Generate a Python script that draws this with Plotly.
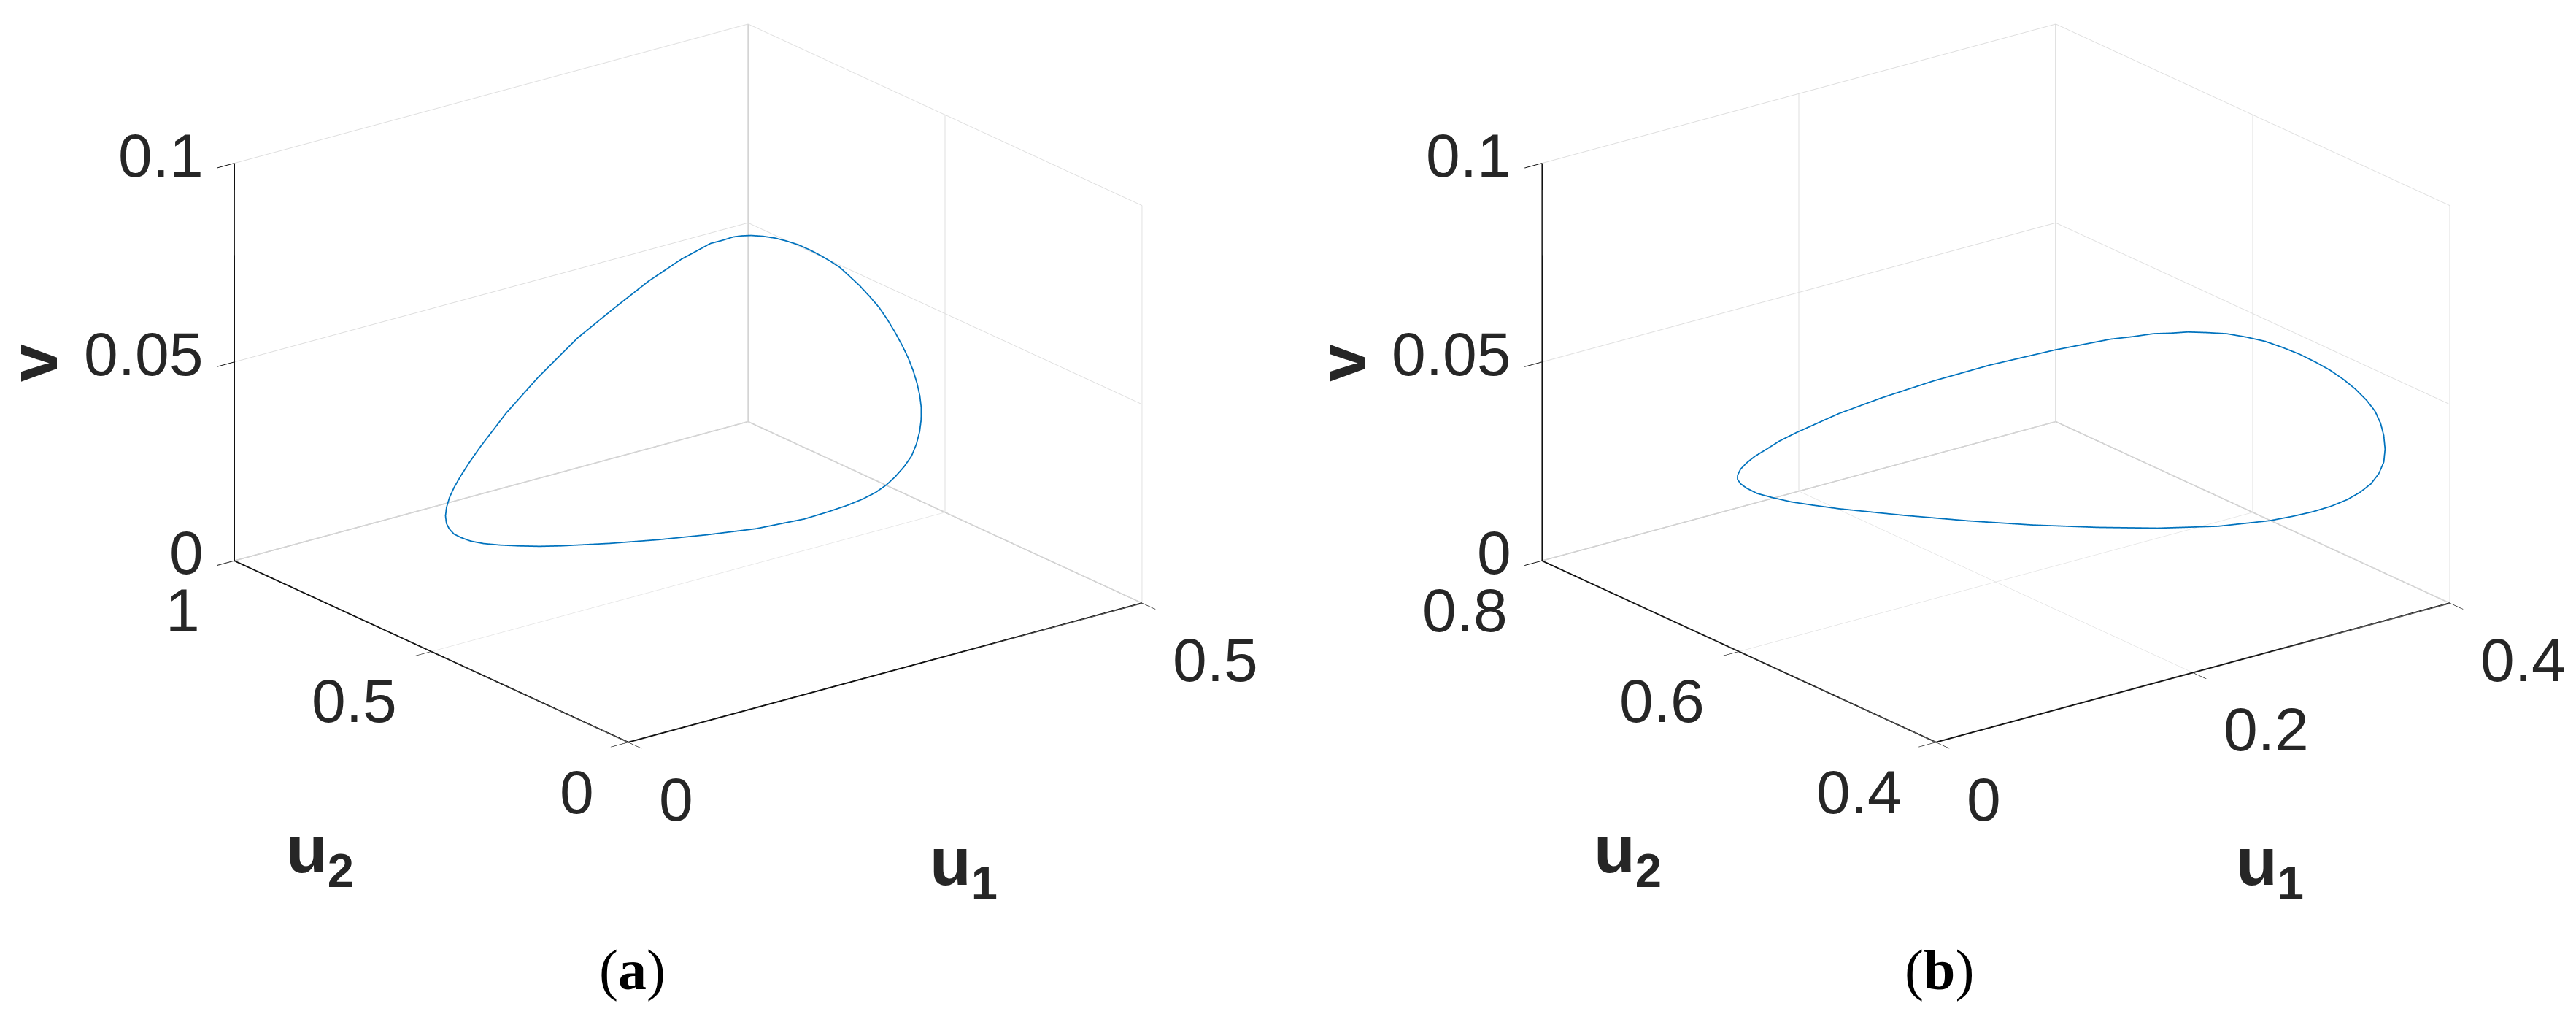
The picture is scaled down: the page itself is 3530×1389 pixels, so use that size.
import plotly.graph_objects as go

W, H = 3530, 1389

# Panel (a)
a_u1 = [.3264,.3368,.3483,.3593,.3694,.3776,.3847,.3909,.3964,.4010,.4054,.4105,.4149,.4167,.4175,.4181,.4182,.4175,.4163,.4150,.4132,.4103,.4065,.4017,.3958,.3878,.3797,.3737,.3679,.3614,.3535,.3431,.3311,.3041,.2768,.2484,.2189,.1885,.1750,.1626,.1510,.1412,.1345,.1301,.1273,.1264,.1278,.1311,.1358,.1418,.1486,.1565,.1653,.1753,.1991,.2197,.2423,.2500,.2665,.2837,.3015,.3078,.3135,.3193,.3264]
a_u2 = [.5396,.5368,.5351,.5346,.5324,.5246,.5147,.5058,.4959,.4833,.4699,.4581,.4453,.4285,.4110,.3950,.3799,.3655,.3526,.3424,.3340,.3267,.3207,.3162,.3132,.3111,.3123,.3194,.3311,.3475,.3677,.3909,.4161,.4692,.5215,.5708,.6176,.6616,.6819,.7011,.7192,.7360,.7512,.7645,.7744,.7836,.7948,.8058,.8155,.8237,.8297,.8334,.8340,.8329,.8292,.8006,.7606,.6902,.6431,.6054,.5776,.5634,.5513,.5441,.5396]
a_v = [.080,.0792,.078,.0765,.075,.0735,.072,.0705,.069,.067,.065,.0625,.060,.0575,.055,.0525,.050,.0475,.045,.0425,.040,.0375,.035,.0325,.030,.028,.026,.024,.022,.020,.018,.016,.014,.011,.009,.0075,.0065,.006,.0059,.006,.0062,.0065,.0069,.0075,.0081,.009,.0098,.011,.0123,.014,.0158,.018,.0208,.024,.031,.040,.050,.060,.068,.074,.078,.079,.080,.0802,.080]
a_u1_ticks = [0, 0.5]
a_u2_ticks = [0, 0.5, 1]
a_u1_labels = ["0", "0.5"]
a_u2_labels = ["0", "0.5", "1"]
a_u1_range = [0, 0.5]
a_u2_range = [0, 1]

# Panel (b)
b_u1 = [.3274,.3378,.3488,.3591,.3681,.3744,.3797,.3855,.3904,.3935,.3952,.3953,.3941,.3924,.3895,.3840,.3781,.3739,.3697,.3643,.3583,.3520,.3454,.3389,.3317,.3131,.2900,.2697,.2448,.2218,.1960,.1713,.1604,.1511,.1442,.1390,.1352,.1328,.1317,.1319,.1334,.1364,.1411,.1473,.1547,.1632,.1837,.2005,.2227,.2458,.2722,.2944,.3041,.3129,.3200,.3274]
b_u2 = [.5713,.5655,.5599,.5533,.5457,.5360,.5259,.5176,.5092,.4995,.4891,.4783,.4681,.4603,.4533,.4448,.4384,.4380,.4406,.4442,.4497,.4577,.4679,.4802,.4938,.5220,.5531,.5879,.6210,.6566,.6886,.7220,.7337,.7437,.7542,.7630,.7683,.7715,.7732,.7734,.7724,.7704,.7682,.7651,.7609,.7552,.7382,.7164,.6928,.6660,.6350,.6070,.5965,.5874,.5788,.5713]
b_v = [.055,.0546,.054,.053,.052,.051,.050,.0485,.047,.0455,.044,.0425,.041,.039,.037,.035,.033,.0305,.028,.026,.024,.022,.020,.018,.016,.013,.011,.009,.008,.007,.007,.007,.0075,.008,.0085,.009,.010,.011,.012,.013,.0145,.016,.0175,.019,.021,.023,.028,.033,.038,.043,.048,.052,.053,.054,.0545,.055]
b_u1_ticks = [0, 0.2, 0.4]
b_u2_ticks = [0.4, 0.6, 0.8]
b_u1_labels = ["0", "0.2", "0.4"]
b_u2_labels = ["0.4", "0.6", "0.8"]
b_u1_range = [0, 0.4]
b_u2_range = [0.4, 0.8]

v_range = [0, 0.1]
v_ticks = [0, 0.05, 0.1]
v_labels = ["0", "0.05", "0.1"]

LINE = "#0072BD"
INK = "#262626"
AXIS = "#111111"
GRID = "#dedede"
EDGE = "#b8b8b8"
TICK_SIZE = 84
R = 1.6
SCALE = 1.543
CENTER_Z = -0.0932
EYE = dict(x=-0.5693 * R, y=-0.7424 * R, z=0.3531 * R + CENTER_Z)


def axis(rng, ticks):
    return dict(
        range=rng, autorange=False, tickmode="array", tickvals=ticks, showticklabels=False,
        title=dict(text=""), showbackground=False, showspikes=False, zeroline=False,
        showgrid=True, gridcolor=GRID, gridwidth=2,
        showline=True, linecolor=AXIS, linewidth=4,
        ticks="outside", ticklen=30, tickwidth=2, tickcolor=AXIS,
    )


def tick_notes(u1r, u1t, u1l, u2r, u2t, u2l):
    out = []
    common = dict(showarrow=False, yanchor="middle",
                  font=dict(family="Liberation Sans", size=TICK_SIZE, color=INK))
    for t, l in zip(u1t, u1l):
        out.append(dict(x=t, y=u2r[0], z=v_range[0], text=l, xanchor="left", xshift=40, yshift=-78, **common))
    for t, l in zip(u2t, u2l):
        out.append(dict(x=u1r[0], y=t, z=v_range[0], text=l, xanchor="right", xshift=-45, yshift=-68, **common))
    for t, l in zip(v_ticks, v_labels):
        out.append(dict(x=u1r[0], y=u2r[1], z=t, text=l, xanchor="right", xshift=-40, yshift=11, **common))
    return out


def scene(dom_x, u1r, u1t, u1l, u2r, u2t, u2l):
    return dict(
        domain=dict(x=[dom_x[0] / W, dom_x[1] / W], y=[1 - 1150 / H, 1]),
        xaxis=axis(u1r, u1t), yaxis=axis(u2r, u2t), zaxis=axis(v_range, v_ticks),
        aspectmode="manual", aspectratio=dict(x=SCALE, y=SCALE, z=0.656 * SCALE),
        camera=dict(projection=dict(type="orthographic"), eye=EYE,
                    center=dict(x=0, y=0, z=CENTER_Z), up=dict(x=0, y=0, z=1)),
        annotations=tick_notes(u1r, u1t, u1l, u2r, u2t, u2l),
    )


def edges(u1r, u2r, name):
    x0, x1 = u1r
    y0, y1 = u2r
    z0, z1 = v_range
    return go.Scatter3d(x=[x0, x1, x1, x1, x1], y=[y1, y1, y1, y1, y0], z=[z0, z0, z1, z0, z0],
                        mode="lines", line=dict(color=EDGE, width=3), hoverinfo="skip", scene=name)


fig = go.Figure()
fig.add_trace(edges(a_u1_range, a_u2_range, "scene"))
fig.add_trace(edges(b_u1_range, b_u2_range, "scene2"))
fig.add_trace(go.Scatter3d(x=a_u1, y=a_u2, z=a_v, mode="lines", line=dict(color=LINE, width=3.5), scene="scene"))
fig.add_trace(go.Scatter3d(x=b_u1, y=b_u2, z=b_v, mode="lines", line=dict(color=LINE, width=3.5), scene="scene2"))


def note(text, px, py, size, family="Liberation Sans", color=INK, angle=0):
    return dict(text=text, x=px / W, y=1 - py / H, xref="paper", yref="paper", showarrow=False,
                xanchor="center", yanchor="middle", textangle=angle,
                font=dict(family=family, size=size, color=color))


fig.update_layout(
    width=W, height=H, margin=dict(l=0, r=0, t=0, b=0), showlegend=False,
    paper_bgcolor="white",
    scene=scene((153, 1733), a_u1_range, a_u1_ticks, a_u1_labels, a_u2_range, a_u2_ticks, a_u2_labels),
    scene2=scene((1945, 3525), b_u1_range, b_u1_ticks, b_u1_labels, b_u2_range, b_u2_ticks, b_u2_labels),
    annotations=[
        note("<b>v</b>", 46, 497, 93, angle=-90),
        note("<b>u<sub>2</sub></b>", 438, 1170, 93),
        note("<b>u<sub>1</sub></b>", 1320, 1187, 93),
        note("(<b>a</b>)", 866, 1328, 78, family="Liberation Serif", color="black"),
        note("<b>v</b>", 1839, 497, 93, angle=-90),
        note("<b>u<sub>2</sub></b>", 2230, 1170, 93),
        note("<b>u<sub>1</sub></b>", 3110, 1187, 93),
        note("(<b>b</b>)", 2657, 1328, 78, family="Liberation Serif", color="black"),
    ],
)

fig.write_html("out.html", config=dict(displayModeBar=False),
               post_script="document.body.style.margin='0';")
